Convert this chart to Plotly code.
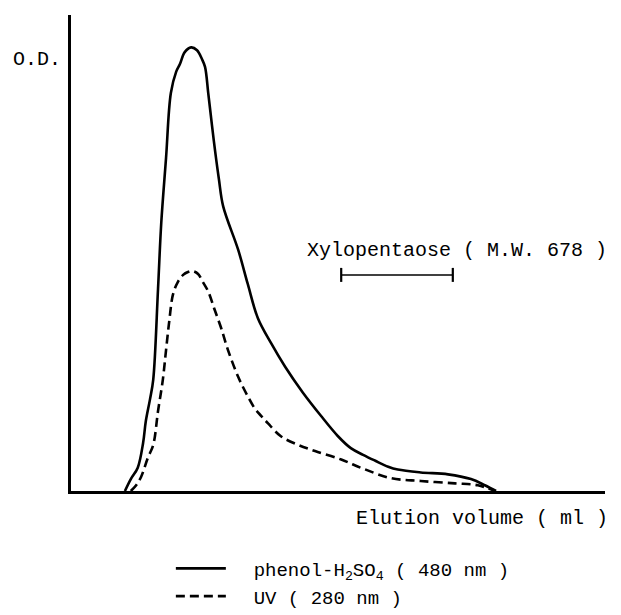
import plotly.graph_objects as go

# Elution profile (arbitrary units: elution volume 0-100, O.D. 0-100)
phenol_x = [10.1, 11.2, 12.5, 13.5, 14.0, 14.8, 15.4, 16.3, 16.9, 17.8, 18.7, 19.7, 20.4, 21.3,
            22.5, 23.6, 24.5, 25.1, 25.7, 26.4, 27.0, 27.7, 28.5, 31.3, 33.1, 35.0, 37.5,
            40.1, 43.4, 46.8, 50.0, 52.4, 54.7, 56.9, 59.4, 61.2, 65.5, 70.6, 74.9, 77.5, 79.6]
phenol_y = [0.0, 2.5, 4.9, 10.1, 14.6, 19.3, 23.4, 42.5, 56.3, 70.0, 83.6, 88.1, 89.7, 92.2,
            93.2, 92.6, 90.8, 89.1, 83.6, 76.8, 71.3, 65.5, 59.8, 50.7, 43.5, 36.3, 31.0,
            26.1, 20.7, 15.8, 11.5, 9.0, 7.6, 6.4, 5.1, 4.5, 3.9, 3.5, 2.5, 1.2, 0.0]

uv_x = [11.2, 12.2, 13.1, 14.4, 15.4, 16.3, 17.2, 17.8, 18.4, 19.1, 20.0, 21.0, 21.9, 22.8,
        23.8, 24.7, 25.7, 26.8, 28.1, 29.4, 31.3, 33.1, 34.5, 35.6, 36.9, 39.3, 42.5, 45.7,
        50.6, 54.7, 59.9, 65.5, 71.9, 76.2, 79.4]
uv_y = [0.0, 1.2, 2.9, 7.0, 9.7, 16.8, 23.4, 29.6, 35.7, 41.3, 43.9, 45.4, 46.0, 46.2,
        45.6, 43.9, 41.9, 38.4, 34.3, 29.6, 24.0, 19.9, 17.2, 15.8, 14.2, 11.5, 9.7, 8.4,
        6.6, 4.7, 2.7, 2.1, 1.6, 1.2, 0.0]

# Xylopentaose (M.W. 678) elution range marker
xylo_x = [50.6, 71.5]
xylo_y = [45.4, 45.4]

FONT = "Liberation Mono"
NB = "\u00a0\u00a0"

fig = go.Figure()
fig.add_trace(go.Scatter(
    x=phenol_x, y=phenol_y, mode="lines",
    line=dict(color="black", width=2.6, shape="spline", smoothing=1.0),
    name=NB + "phenol-H<sub>2</sub>SO<sub>4</sub> ( 480 nm )"))
fig.add_trace(go.Scatter(
    x=uv_x, y=uv_y, mode="lines",
    line=dict(color="black", width=2.6, dash="9px,5px", shape="spline", smoothing=1.0),
    name=NB + "UV ( 280 nm )"))
fig.add_trace(go.Scatter(
    x=xylo_x, y=xylo_y, mode="lines+markers", showlegend=False,
    line=dict(color="black", width=1.5),
    marker=dict(symbol="line-ns", size=10, line=dict(color="black", width=2.2))))

fig.add_annotation(text="O.D.", x=-0.015, xref="paper", y=90.6, yref="y", xanchor="right", yanchor="middle",
                   showarrow=False, font=dict(family=FONT, size=20, color="black"))
fig.add_annotation(text="Xylopentaose ( M.W. 678 )", x=43.8, y=50.5, xanchor="left", yanchor="middle",
                   showarrow=False, font=dict(family=FONT, size=20, color="black"))
fig.add_annotation(text="Elution volume ( ml )", x=1.009, xref="paper", y=-0.0575, yref="paper",
                   xanchor="right", yanchor="middle",
                   showarrow=False, font=dict(family=FONT, size=20, color="black"))

fig.update_xaxes(range=[0, 100], showline=True, linecolor="black", linewidth=2.5, showgrid=False,
                 zeroline=False, showticklabels=False, ticks="")
fig.update_yaxes(range=[0, 100], showline=True, linecolor="black", linewidth=2.5, showgrid=False,
                 zeroline=False, showticklabels=False, ticks="")

fig.update_layout(
    width=621, height=615,
    margin=dict(l=63, r=24, t=7, b=121),
    plot_bgcolor="white", paper_bgcolor="white",
    font=dict(family=FONT, size=19, color="black"),
    showlegend=True,
    legend=dict(x=0.187, xanchor="left", y=-0.123, yanchor="top", itemwidth=50,
                bgcolor="rgba(0,0,0,0)", font=dict(family=FONT, size=19, color="black")),
)

fig.write_html("out.html")
